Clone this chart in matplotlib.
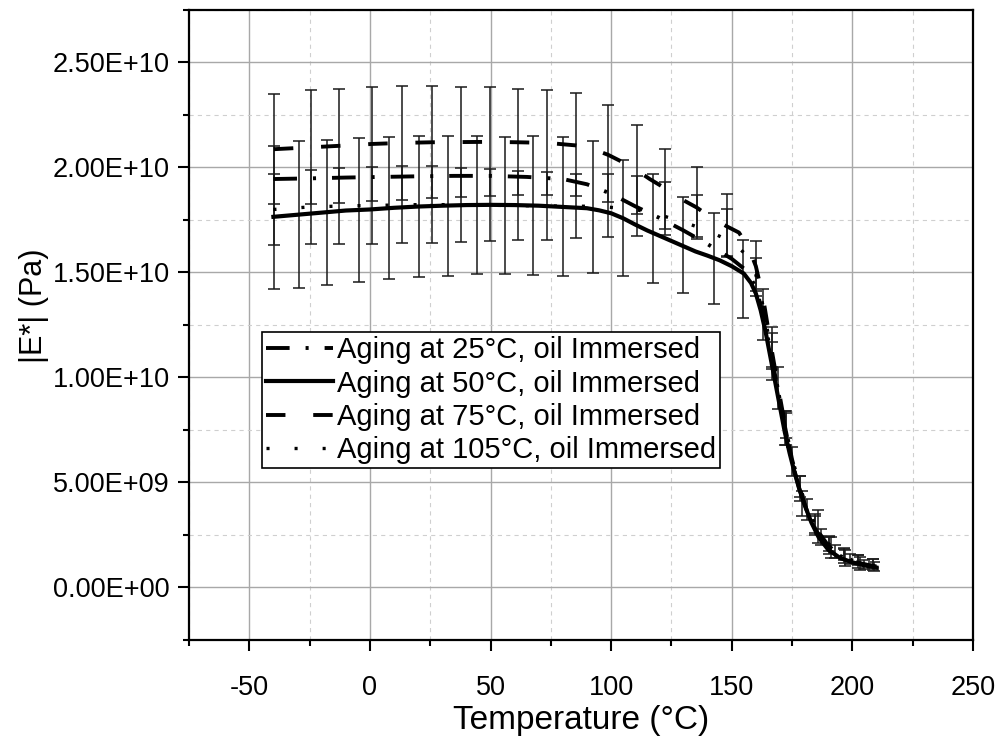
import numpy as np
import matplotlib
matplotlib.use("Agg")
import matplotlib.pyplot as plt
from matplotlib.ticker import MultipleLocator, FuncFormatter
from matplotlib.lines import Line2D

plt.rcParams['font.family'] = ['Liberation Sans', 'DejaVu Sans']
plt.rcParams['lines.scale_dashes'] = False
plt.rcParams['axes.unicode_minus'] = False

SCALE = 1e10  # values below are in units of 1E+10 Pa

labels = ["Aging at 25°C, oil Immersed", "Aging at 50°C, oil Immersed",
          "Aging at 75°C, oil Immersed", "Aging at 105°C, oil Immersed"]

# curves
t_25 = [-40, -25, -10, 5, 20, 35, 50, 65, 80, 90, 100, 110, 120, 130, 140, 150,
        156, 160, 163, 166, 169, 172, 175, 178, 181, 185, 190, 195, 200, 205, 210]
e_25 = [1.945, 1.948, 1.952, 1.955, 1.958, 1.96, 1.96, 1.955, 1.945, 1.92, 1.875, 1.815, 1.76, 1.70, 1.635, 1.565,
        1.51, 1.43, 1.30, 1.13, 0.95, 0.77, 0.60, 0.47, 0.37, 0.27, 0.19, 0.15, 0.125, 0.11, 0.10]

t_50 = [-40, -30, -20, -10, 0, 10, 20, 30, 40, 50, 60, 70, 80, 90, 95, 100, 105, 110, 115, 120, 125, 130,
        135, 140, 145, 150, 155, 158, 160, 162, 164, 166, 168, 170, 172, 174, 176, 178, 180, 183, 186, 190,
        195, 200, 205, 210]
e_50 = [1.765, 1.775, 1.785, 1.795, 1.80, 1.808, 1.814, 1.818, 1.821, 1.822, 1.821, 1.818, 1.812, 1.806, 1.796,
        1.782, 1.758, 1.728, 1.70, 1.675, 1.65, 1.625, 1.60, 1.58, 1.558, 1.53, 1.495, 1.45, 1.40, 1.32, 1.22,
        1.10, 0.98, 0.86, 0.74, 0.64, 0.55, 0.47, 0.40, 0.31, 0.24, 0.18, 0.14, 0.12, 0.105, 0.095]

t_75 = [-39.8, -24.6, -12.9, 0.9, 13.3, 25.7, 37.8, 49.8, 61.5, 73.6, 85.5, 92, 98.8, 104, 110.9, 116, 122.5,
        129, 135.4, 141, 147.9, 153, 157, 160, 163, 166, 169, 172, 175, 178, 181, 185, 190, 195, 200, 205, 210]
e_75 = [2.087, 2.096, 2.103, 2.112, 2.117, 2.12, 2.121, 2.122, 2.12, 2.117, 2.105, 2.09, 2.06, 2.03, 1.985,
        1.945, 1.90, 1.85, 1.81, 1.765, 1.72, 1.69, 1.62, 1.53, 1.38, 1.17, 0.97, 0.78, 0.61, 0.48, 0.37,
        0.28, 0.20, 0.15, 0.125, 0.11, 0.10]

t_105 = [-40, -25, -10, 5, 20, 35, 50, 65, 80, 95, 110, 120, 130, 140, 150, 156, 160, 163, 166, 169, 172,
         175, 178, 181, 185, 190, 195, 200, 205, 210]
e_105 = [1.80, 1.812, 1.817, 1.82, 1.823, 1.823, 1.82, 1.818, 1.816, 1.815, 1.80, 1.775, 1.74, 1.70, 1.645,
         1.585, 1.49, 1.34, 1.15, 0.96, 0.78, 0.62, 0.49, 0.385, 0.29, 0.21, 0.16, 0.13, 0.115, 0.105]

# error bars
bt_25 = [163, 169, 175, 181, 187, 193, 199, 205]
be_25 = [1.30, 0.95, 0.60, 0.37, 0.24, 0.17, 0.135, 0.11]
err_25 = [0.12, 0.10, 0.07, 0.05, 0.04, 0.03, 0.025, 0.02]

bt_50 = [-39.8, -29.4, -17.9, -4.6, 7.8, 20.5, 32.5, 44.5, 56, 67.8, 80.2, 92.6, 104.8, 117.2, 129.6, 142.5,
         154.7, 166.5, 172, 179, 185.9, 191, 197, 203, 209]
be_50 = [1.76, 1.775, 1.785, 1.798, 1.807, 1.814, 1.818, 1.821, 1.819, 1.82, 1.815, 1.812, 1.76, 1.71, 1.63,
         1.567, 1.47, 1.08, 0.76, 0.40, 0.29, 0.19, 0.14, 0.115, 0.10]
err_50 = [0.34, 0.35, 0.344, 0.341, 0.339, 0.336, 0.333, 0.33, 0.325, 0.33, 0.33, 0.313, 0.277, 0.26, 0.229,
          0.216, 0.186, 0.09, 0.08, 0.06, 0.08, 0.05, 0.04, 0.03, 0.02]

bt_75 = [-39.8, -24.6, -12.9, 0.9, 13.3, 25.7, 37.8, 49.8, 61.5, 73.6, 85.5, 98.8, 110.9, 122.5, 135.4, 147.9,
         160.2, 166.5, 172.5, 178.5, 184.5, 190.5, 196.5, 202.5, 208.5]
be_75 = [2.087, 2.096, 2.103, 2.112, 2.117, 2.12, 2.121, 2.122, 2.12, 2.117, 2.109, 2.067, 1.99, 1.897, 1.83,
         1.724, 1.53, 1.14, 0.76, 0.47, 0.30, 0.20, 0.15, 0.125, 0.11]
err_75 = [0.263, 0.272, 0.273, 0.272, 0.27, 0.267, 0.262, 0.26, 0.253, 0.25, 0.247, 0.232, 0.21, 0.192, 0.17,
          0.15, 0.12, 0.10, 0.08, 0.06, 0.05, 0.04, 0.035, 0.03, 0.025]

bt_105 = bt_75
be_105 = [1.80, 1.813, 1.817, 1.82, 1.823, 1.823, 1.822, 1.82, 1.818, 1.817, 1.816, 1.819, 1.817, 1.805, 1.77,
          1.69, 1.48, 1.13, 0.77, 0.48, 0.30, 0.21, 0.16, 0.13, 0.115]
err_105 = [0.168, 0.176, 0.18, 0.183, 0.183, 0.182, 0.176, 0.171, 0.165, 0.16, 0.154, 0.148, 0.141, 0.125, 0.10,
           0.11, 0.09, 0.08, 0.06, 0.05, 0.04, 0.035, 0.03, 0.025, 0.02]

styles = [dict(ls=(0, (17, 11.5, 2.2, 11.5)), lw=2.8),
          dict(ls='-', lw=3.0),
          dict(ls=(0, (14, 20)), lw=2.8),
          dict(ls=(0, (2.2, 18)), lw=2.4)]

fig = plt.figure(figsize=(10.02, 7.44), dpi=100)
ax = fig.add_axes([0.1886, 0.1398, 0.7824, 0.8468])

bars = [(bt_25, be_25, err_25), (bt_50, be_50, err_50), (bt_75, be_75, err_75), (bt_105, be_105, err_105)]
for bt, be, er in bars:
    ax.errorbar(bt, np.array(be) * SCALE, yerr=np.array(er) * SCALE, fmt='none', ecolor='#1a1a1a',
                elinewidth=1.1, capsize=4.5, capthick=1.1, zorder=2)

curves = [(t_25, e_25), (t_50, e_50), (t_75, e_75), (t_105, e_105)]
for (t, e), st in zip(curves, styles):
    ax.plot(t, np.array(e) * SCALE, color='black', dash_capstyle='butt', zorder=3, **st)

ax.set_xlim(-75, 250)
ax.set_ylim(-2.5e9, 2.75e10)
ax.xaxis.set_major_locator(MultipleLocator(50))
ax.xaxis.set_minor_locator(MultipleLocator(25))
ax.yaxis.set_major_locator(MultipleLocator(5e9))
ax.yaxis.set_minor_locator(MultipleLocator(2.5e9))
ax.yaxis.set_major_formatter(FuncFormatter(lambda v, p: f"{v:.2E}"))

ax.set_axisbelow(True)
ax.grid(which='major', color='#a8a8a8', lw=1.0, ls='-')
ax.grid(which='minor', color='#cfcfcf', lw=0.8, ls=(0, (3, 3)))

for sp in ax.spines.values():
    sp.set_linewidth(1.6)
ax.tick_params(which='major', direction='out', length=8, width=1.5, top=False, right=False)
ax.tick_params(which='minor', direction='out', length=4, width=1.5, top=False, right=False)
ax.tick_params(axis='y', which='major', labelsize=19.5, pad=6)
ax.tick_params(axis='x', which='major', labelsize=19.5, pad=17)

ax.set_xlabel("Temperature (°C)", fontsize=24, labelpad=3)
ax.set_ylabel("|E*| (Pa)", fontsize=22)
ax.yaxis.set_label_coords(-0.178, 0.53)

handles = [Line2D([], [], color='black', dash_capstyle='butt', **st) for st in styles]
leg = ax.legend(handles, labels, loc='upper left', bbox_to_anchor=(0.093, 0.489), frameon=True,
                fancybox=False, edgecolor='black', framealpha=1, fontsize=21, handlelength=2.3,
                handletextpad=0.12, labelspacing=0.18, borderpad=0.15, borderaxespad=0)
leg.get_frame().set_linewidth(1.2)

fig.savefig("out.png", dpi=100)
